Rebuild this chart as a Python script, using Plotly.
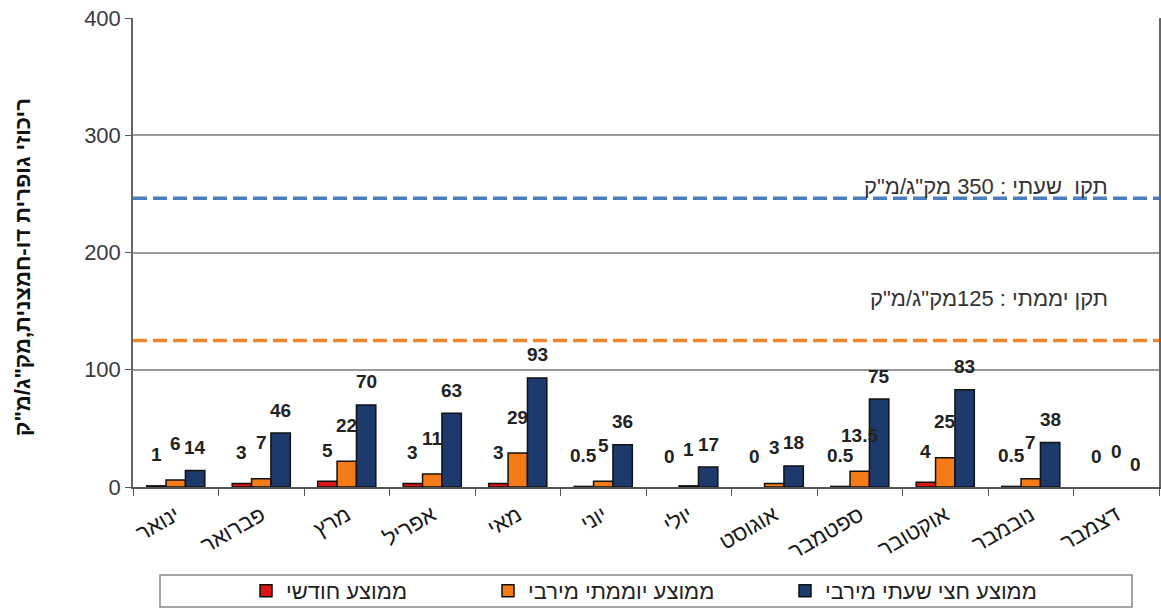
import plotly.graph_objects as go

# Monthly SO2 concentrations (µg/m³)
months = ["ינואר", "פברואר", "מרץ", "אפריל", "מאי", "יוני",
          "יולי", "אוגוסט", "ספטמבר", "אוקטובר", "נובמבר", "דצמבר"]
monthly_avg = [1, 3, 5, 3, 3, 0.5, 0, 0, 0.5, 4, 0.5, 0]
daily_max = [6, 7, 22, 11, 29, 5, 1, 3, 13.5, 25, 7, 0]
halfhour_max = [14, 46, 70, 63, 93, 36, 17, 18, 75, 83, 38, 0]
series_names = ["ממוצע חודשי", "ממוצע יוממתי מירבי", "ממוצע חצי שעתי מירבי"]

y_ticks = [0, 100, 200, 300, 400]
daily_standard = 125
hourly_standard = 350
daily_label = "תקן יממתי : 125מק\"ג/מ\"ק"
hourly_label = "תקו  שעתי : 350 מק\"ג/מ\"ק"
y_title = "ריכוזי גופרית דו-חמצנית,מק\"ג/מ\"ק"

# ---- styling / layout constants ----
W, H = 1161, 608
M_L, M_R, M_T, M_B = 133, 2, 18, 121
FONT = "Liberation Sans, Arial, sans-serif"
colors = ["#dc1515", "#f47b16", "#1d3a6c"]
BARGAP = 0.32
# hidden secondary scale used by the hourly standard line
Y2_MAX = 568.6

plot_w = W - M_L - M_R
plot_h = H - M_T - M_B
bar_px = plot_w / len(months) * (1 - BARGAP) / 3
label_lift = [31, 36, 23]


def px_x(px):
    return (px - M_L) / plot_w


def px_y(py):
    return (H - M_B - py) / plot_h


fig = go.Figure()
series = [monthly_avg, daily_max, halfhour_max]
legend_ids = ["legend", "legend2", "legend3"]
for name, vals, col, lg in zip(series_names, series, colors, legend_ids):
    fig.add_trace(go.Bar(
        x=months, y=vals, name=name, legend=lg,
        marker=dict(color=col,
                    line=dict(color="#111111",
                              width=[1.5 if v > 0 else 0 for v in vals])),
    ))

# value labels above each bar
annotations = []
for j, vals in enumerate(series):
    for m, v in zip(months, vals):
        annotations.append(dict(
            x=m, y=v, xref="x", yref="y", text=f"{v:g}", showarrow=False,
            xshift=(j - 1) * bar_px, yshift=label_lift[j],
            font=dict(family=FONT, size=19, color="#222222", weight="bold"),
            xanchor="center", yanchor="middle",
        ))

# standards text
std_font = dict(family=FONT, size=22, color="#333333")
annotations.append(dict(x=px_x(1110), y=px_y(186), xref="paper", yref="paper",
                        text=hourly_label, showarrow=False, xanchor="right",
                        font=std_font))
annotations.append(dict(x=px_x(1110), y=px_y(298), xref="paper", yref="paper",
                        text=daily_label, showarrow=False, xanchor="right",
                        font=std_font))

# vertical axis title
annotations.append(dict(x=px_x(22), y=px_y(267), xref="paper", yref="paper",
                        text=y_title, showarrow=False, textangle=-90,
                        xanchor="center", yanchor="middle",
                        font=dict(family=FONT, size=22, color="#111111",
                                  weight="bold")))

shapes = [
    dict(type="line", xref="paper", x0=0, x1=1, yref="y2",
         y0=hourly_standard, y1=hourly_standard,
         line=dict(color="#4d7fbf", width=3.5, dash="14px,6px"), layer="above"),
    dict(type="line", xref="paper", x0=0, x1=1, yref="y",
         y0=daily_standard, y1=daily_standard,
         line=dict(color="#ef862b", width=3.5, dash="14px,6px"), layer="above"),
    # legend frame
    dict(type="rect", xref="paper", yref="paper",
         x0=px_x(160), x1=px_x(1132), y0=px_y(607), y1=px_y(575),
         line=dict(color="#888888", width=1.5), fillcolor="rgba(0,0,0,0)"),
]

legend_font = dict(family=FONT, size=22, color="#222222")
legend_x = [246, 488, 785]
legends = {}
for lg, lx in zip(legend_ids, legend_x):
    legends[lg] = dict(orientation="h", x=px_x(lx), xanchor="left",
                       y=px_y(570), yanchor="top", borderwidth=0,
                       bgcolor="rgba(0,0,0,0)", font=legend_font)

fig.update_layout(
    width=W, height=H,
    margin=dict(l=M_L, r=M_R, t=M_T, b=M_B, autoexpand=False),
    paper_bgcolor="white", plot_bgcolor="white",
    barmode="group", bargap=BARGAP, bargroupgap=0,
    font=dict(family=FONT, color="#222222"),
    showlegend=True,
    xaxis=dict(
        type="category", categoryorder="array", categoryarray=months,
        showline=True, linecolor="#555555", linewidth=1.5,
        ticks="outside", tickson="boundaries", ticklen=7, tickcolor="#555555",
        tickangle=-30, tickfont=dict(family=FONT, size=22, color="#1a1a1a"),
        ticklabelstandoff=5,
        showgrid=False, automargin=False,
    ),
    yaxis=dict(
        range=[0, 400], tickvals=y_ticks,
        showline=True, mirror=True, linecolor="#666666", linewidth=1.5,
        ticks="outside", ticklen=6, tickcolor="#555555",
        tickfont=dict(family=FONT, size=22, color="#3a3a3a"),
        showgrid=True, gridcolor="#9a9a9a", gridwidth=2,
        zeroline=False, automargin=False,
    ),
    yaxis2=dict(range=[0, Y2_MAX], overlaying="y", visible=False),
    annotations=annotations,
    shapes=shapes,
    **legends,
)

fig.write_html("out.html")
